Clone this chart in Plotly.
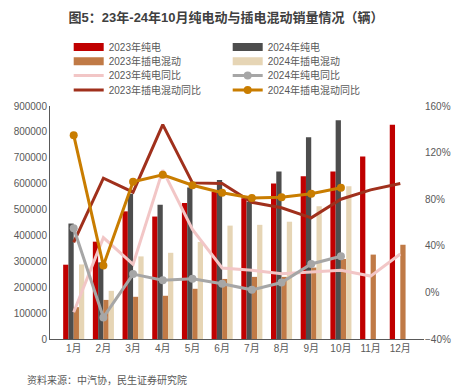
import plotly.graph_objects as go

months = ['1月', '2月', '3月', '4月', '5月', '6月', '7月', '8月', '9月', '10月', '11月', '12月']
bev_2023 = [287000, 376000, 493000, 473000, 525000, 569000, 544000, 601000, 629000, 647000, 705000, 828000]
bev_2024 = [446000, 296000, 561000, 519000, 585000, 614000, 530000, 647000, 779000, 845000, None, None]
phev_2023 = [123000, 151000, 163000, 167000, 194000, 232000, 240000, 240000, 276000, 309000, 326000, 364000]
phev_2024 = [288000, 186000, 319000, 333000, 375000, 438000, 441000, 453000, 513000, 590000, None, None]
bev_yoy_2023 = [-17, 47, 24, 105, 54, 21, 19, 16, 17.5, 19, 14, 33]
bev_yoy_2024 = [55, -21.5, 15.7, 10.5, 11.7, 7.4, 2.2, 8.5, 24.4, 31, None, None]
phev_yoy_2023 = [43, 98, 86, 144, 94, 93.5, 77.4, 72.6, 64, 80, 88, 93.5]
phev_yoy_2024 = [135, 23, 95, 101, 92, 85.5, 81, 81.7, 84.6, 89.8, None, None]

C_RED = '#C00000'
C_DGREY = '#4D4D4D'
C_BROWN = '#C07A46'
C_BEIGE = '#E6D5B5'
C_PINK = '#F2C6C6'
C_GREY = '#A6A6A6'
C_DRED = '#A0301C'
C_ORANGE = '#C97D00'

FONT = 'Liberation Sans, Noto Sans CJK SC, sans-serif'
TXT = '#595959'

fig = go.Figure()

bars = [
    ('2023年纯电', bev_2023, C_RED, 'legend'),
    ('2024年纯电', bev_2024, C_DGREY, 'legend'),
    ('2023年插电混动', phev_2023, C_BROWN, 'legend2'),
    ('2024年插电混动', phev_2024, C_BEIGE, 'legend2'),
]
for name, vals, col, lg in bars:
    fig.add_trace(go.Bar(x=months, y=vals, name=name, marker=dict(color=col, line=dict(width=0)),
                         showlegend=False, yaxis='y'))

lines = [
    ('2023年纯电同比', bev_yoy_2023, C_PINK, False, 'legend3'),
    ('2024年纯电同比', bev_yoy_2024, C_GREY, True, 'legend3'),
    ('2023年插电混动同比', phev_yoy_2023, C_DRED, False, 'legend4'),
    ('2024年插电混动同比', phev_yoy_2024, C_ORANGE, True, 'legend4'),
]
order = [0, 2, 1, 3]
for i in order:
    name, vals, col, mk, lg = lines[i]
    fig.add_trace(go.Scatter(x=months, y=vals, name=name, yaxis='y2',
                             mode='lines+markers' if mk else 'lines',
                             line=dict(color=col, width=3),
                             marker=dict(size=8, color=col),
                             showlegend=False))

# legend entries
for name, vals, col, lg in bars:
    fig.add_trace(go.Scatter(x=[None], y=[None], name=name, mode='lines',
                             line=dict(color=col, width=8), legend=lg, yaxis='y'))
for name, vals, col, mk, lg in lines:
    fig.add_trace(go.Scatter(x=[None], y=[None], name=name,
                             mode='lines+markers' if mk else 'lines',
                             line=dict(color=col, width=3), marker=dict(size=8, color=col),
                             legend=lg, yaxis='y2'))

leg_common = dict(orientation='h', x=0.05, xanchor='left', yanchor='middle',
                  entrywidth=114, entrywidthmode='pixels', traceorder='normal',
                  font=dict(family=FONT, size=10, color=TXT), bgcolor='rgba(0,0,0,0)',
                  itemwidth=30, tracegroupgap=0)

fig.update_layout(
    width=472, height=389,
    margin=dict(l=50, r=48, t=106, b=50),
    paper_bgcolor='white', plot_bgcolor='white',
    barmode='group', bargap=0.29, bargroupgap=0,
    title=dict(text='<b>图5：23年-24年10月纯电动与插电混动销量情况（辆）</b>',
               x=0.479, xanchor='center', y=1 - 17 / 389, yanchor='middle',
               font=dict(family=FONT, size=13, color='#404040')),
    xaxis=dict(showgrid=False, showline=True, linecolor='#595959', linewidth=1,
               ticks='', tickfont=dict(family=FONT, size=10, color=TXT)),
    yaxis=dict(range=[0, 900000], dtick=100000, showgrid=False, showline=True,
               linecolor='#595959', linewidth=1, ticks='', tickformat='d',
               tickfont=dict(family=FONT, size=10, color=TXT), zeroline=False),
    yaxis2=dict(range=[-40, 160], dtick=40, overlaying='y', side='right', showgrid=False,
                showline=False, ticksuffix='%', ticks='', zeroline=False,
                tickfont=dict(family=FONT, size=10, color=TXT)),
    legend=dict(leg_common, y=(339 - 47) / 233),
    legend2=dict(leg_common, y=(339 - 61.3) / 233),
    legend3=dict(leg_common, y=(339 - 75.5) / 233),
    legend4=dict(leg_common, y=(339 - 90) / 233),
    annotations=[dict(text='资料来源：中汽协，民生证券研究院', xref='paper', yref='paper',
                      x=(25 - 50) / 374, y=(339 - 380) / 233, xanchor='left', yanchor='middle',
                      showarrow=False, font=dict(family=FONT, size=10, color=TXT))],
)

fig.write_html('out.html', config={'displayModeBar': False},
               post_script="document.body.style.margin='0';")
